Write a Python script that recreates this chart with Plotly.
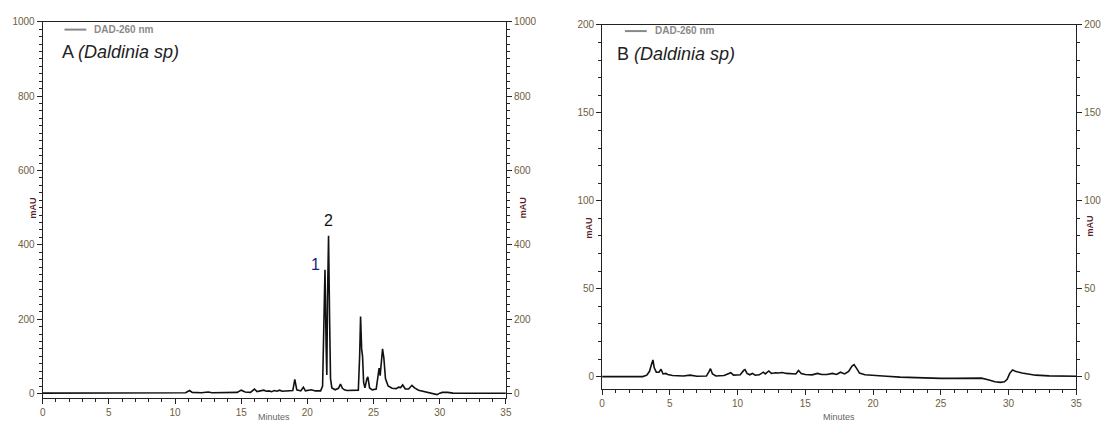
import plotly.graph_objects as go

# ---- Data ----
time_A = [0, 2, 3.5, 5, 7, 9, 10, 10.6, 10.8, 11.1, 11.3, 12, 12.5, 12.8, 13.5, 13.8, 14.1, 14.7,
          15.0, 15.3, 15.7, 16.0, 16.2, 16.5, 16.7, 16.9, 17.1, 17.3, 17.5, 17.7, 17.9, 18.1, 18.5,
          18.9, 19.05, 19.2, 19.5, 19.7, 19.85, 20.1, 20.3, 20.6, 21.0, 21.15, 21.25, 21.33, 21.42,
          21.47, 21.52, 21.6, 21.68, 21.75, 21.85, 22.1, 22.35, 22.5, 22.65, 22.8, 23.0, 23.5, 23.85,
          23.95, 24.02, 24.1, 24.17, 24.25, 24.35, 24.5, 24.57, 24.7, 24.9, 25.2, 25.35, 25.42, 25.5,
          25.58, 25.68, 25.78, 25.9, 26.1, 26.4, 26.7, 26.9, 27.05, 27.2, 27.4, 27.65, 27.9, 28.1,
          28.4, 28.8, 29.2, 29.5, 29.8, 30.0, 30.2, 30.6, 31, 32, 33, 35]
mAU_A = [1, 1, 1.5, 1, 1, 1.5, 1.5, 3, 2, 8, 3, 2, 4, 2, 2, 4, 2, 3,
         9, 4, 3, 12, 5, 7, 9, 6, 7, 5, 8, 6, 9, 6, 6,
         8, 38, 10, 7, 17, 7, 8, 10, 7, 7, 20, 200, 333, 120,
         50, 250, 424, 200, 40, 15, 10, 14, 25, 14, 10, 8, 8, 9,
         100, 207, 120, 100, 30, 15, 40, 45, 15, 10, 12, 55, 68, 48,
         80, 120, 95, 40, 20, 14, 13, 17, 16, 23, 12, 12, 22, 15,
         9, 6, 3, -1, -3, 1, 3, 3, 1, 0.5, 0.5, 0.5]

time_B = [0, 1, 2, 3, 3.3, 3.5, 3.65, 3.75, 3.85, 4.0, 4.2, 4.35, 4.5, 4.7, 4.85, 5.2, 6, 6.5, 7,
          7.7, 7.9, 8.0, 8.15, 8.4, 9.0, 9.3, 9.5, 9.7, 10.2, 10.45, 10.55, 10.7, 10.9, 11.1, 11.3,
          11.6, 11.9, 12.05, 12.3, 12.5, 12.8, 13.0, 13.3, 13.6, 14.0, 14.3, 14.5, 14.7, 15.0, 15.5,
          15.9, 16.2, 16.6, 17.0, 17.3, 17.6, 17.9, 18.2, 18.45, 18.6, 18.8, 19.0, 19.4, 20, 21, 22,
          23, 24, 25, 26, 27, 28, 28.5, 29.0, 29.4, 29.7, 29.9, 30.1, 30.3, 30.5, 31, 31.5, 32, 33,
          34, 35]
mAU_B = [0, 0, -0.2, 0, 0.8, 3, 7, 9.5, 5, 2.5, 2.5, 4.2, 1.5, 1.8, 1.2, 0.6, 0.3, 0.8, 0.2,
         0.3, 3, 4.5, 1.5, 0.3, 0.6, 1.8, 2.2, 0.8, 1, 3.5, 4, 1.8, 1, 1.8, 0.8,
         1, 2.5, 1.5, 3.2, 1.8, 2.2, 2, 2.3, 1.8, 1.6, 1.5, 3.5, 1.8, 1.2, 1,
         1.8, 1.2, 1.2, 1.8, 1.2, 2.5, 1.5, 3, 6, 6.8, 4.5, 2, 1, 0.6, 0.2, -0.3,
         -0.6, -0.8, -1, -1, -0.9, -0.9, -1.8, -2.9, -3.3, -3, -1.5, 2, 3.8, 3, 2, 1.2, 0.8, 0.4,
         0.3, 0.2]

peak_labels = ["1", "2"]
peak_label_pos_A = [(20.6, 347), (21.6, 466)]
legend_name = "DAD-260 nm"
x_ticks = [0, 5, 10, 15, 20, 25, 30, 35]
y_ticks_A = [0, 200, 400, 600, 800, 1000]
y_ticks_B = [0, 50, 100, 150, 200]

W, H = 1110, 425
def px(x): return x / W
def py(y): return 1 - y / H

FONT = "Liberation Sans, Arial, sans-serif"
TICKCOL = "#6e6040"
LINECOL = "#111111"
LW = 1.6

fig = go.Figure()
fig.add_trace(go.Scatter(x=time_A, y=mAU_A, mode="lines", line=dict(color=LINECOL, width=LW),
                         xaxis="x", yaxis="y", showlegend=False, hoverinfo="skip"))
fig.add_trace(go.Scatter(x=time_A, y=mAU_A, mode="lines", line=dict(color=LINECOL, width=LW),
                         opacity=0, xaxis="x", yaxis="y3", showlegend=False, hoverinfo="skip"))
fig.add_trace(go.Scatter(x=time_B, y=mAU_B, mode="lines", line=dict(color=LINECOL, width=LW),
                         xaxis="x2", yaxis="y2", showlegend=False, hoverinfo="skip"))
fig.add_trace(go.Scatter(x=time_B, y=mAU_B, mode="lines", line=dict(color=LINECOL, width=LW),
                         opacity=0, xaxis="x2", yaxis="y4", showlegend=False, hoverinfo="skip"))

xcommon = dict(range=[0, 35], tickvals=x_ticks, ticks="outside", ticklen=5, tickcolor="#222",
               showline=True, linecolor="#222", linewidth=1, mirror=True, showgrid=False,
               zeroline=False, tickfont=dict(size=10, color=TICKCOL, family=FONT),
               minor=dict(dtick=1, ticks="outside", ticklen=3, tickcolor="#222"))

dom_xA = [px(40), px(507)]
dom_yA = [py(398.3), py(16)]
dom_xB = [px(604), px(1082)]
dom_yB = [py(389.3), py(19.3)]

ycommon = dict(ticks="outside", ticklen=5, tickcolor="#222", showline=True, linecolor="#222",
               linewidth=1, showgrid=False, zeroline=False,
               tickfont=dict(size=10, color=TICKCOL, family=FONT))

fig.update_layout(
    width=W, height=H, margin=dict(l=0, r=0, t=0, b=0),
    paper_bgcolor="white", plot_bgcolor="white",
    font=dict(family=FONT),
    xaxis=dict(domain=dom_xA, anchor="y", **xcommon),
    yaxis=dict(domain=dom_yA, anchor="x", range=[-11.4, 1000], tickvals=y_ticks_A,
               minor=dict(dtick=20, ticks="outside", ticklen=3, tickcolor="#222"), **ycommon),
    yaxis3=dict(overlaying="y", side="right", anchor="x", range=[-11.4, 1000], tickvals=y_ticks_A,
                minor=dict(dtick=20, ticks="outside", ticklen=3, tickcolor="#222"), **ycommon),
    xaxis2=dict(domain=dom_xB, anchor="y2", **xcommon),
    yaxis2=dict(domain=dom_yB, anchor="x2", range=[-7, 200], tickvals=y_ticks_B,
                minor=dict(dtick=10, ticks="outside", ticklen=3, tickcolor="#222"), **ycommon),
    yaxis4=dict(overlaying="y2", side="right", anchor="x2", range=[-7, 200], tickvals=y_ticks_B,
                minor=dict(dtick=10, ticks="outside", ticklen=3, tickcolor="#222"), **ycommon),
)

ann = []
# panel titles
ann.append(dict(x=px(57), y=py(47), xref="paper", yref="paper", xanchor="left", yanchor="middle",
                text="A <i>(Daldinia sp)</i>", showarrow=False, font=dict(size=18, color="#222")))
ann.append(dict(x=px(617), y=py(49), xref="paper", yref="paper", xanchor="left", yanchor="middle",
                text="B <i>(Daldinia sp)</i>", showarrow=False, font=dict(size=18, color="#222")))
# legend texts
for lx, ly in [(90, 24), (655, 25)]:
    ann.append(dict(x=px(lx), y=py(ly), xref="paper", yref="paper", xanchor="left", yanchor="middle",
                    text="<b>" + legend_name + "</b>", showarrow=False,
                    font=dict(size=10, color="#8a8a8a")))
# mAU labels
for mx, my in [(30, 205), (524, 205), (591, 226), (1096, 224)]:
    ann.append(dict(x=px(mx), y=py(my), xref="paper", yref="paper", xanchor="center", yanchor="middle",
                    text="<b>mAU</b>", textangle=-90, showarrow=False,
                    font=dict(size=9, color="#5a1f2a")))
# Minutes
for mx in [273, 843]:
    ann.append(dict(x=px(mx), y=py(424.5), xref="paper", yref="paper", xanchor="center", yanchor="bottom",
                    text="Minutes", showarrow=False, font=dict(size=9, color="#666")))
# peak labels
colors = ["#1a237e", "#111111"]
for lab, (xx, yy), c in zip(peak_labels, peak_label_pos_A, colors):
    ann.append(dict(x=xx, y=yy, xref="x", yref="y", text=lab, showarrow=False,
                    font=dict(size=16, color=c)))
fig.update_layout(annotations=ann)

# legend sample lines
shapes = []
for x0, x1, yy in [(62, 84, 24), (627, 649, 25.5)]:
    shapes.append(dict(type="line", xref="paper", yref="paper", x0=px(x0), x1=px(x1),
                       y0=py(yy), y1=py(yy), line=dict(color="#888", width=2)))
fig.update_layout(shapes=shapes)

fig.write_html("out.html")
